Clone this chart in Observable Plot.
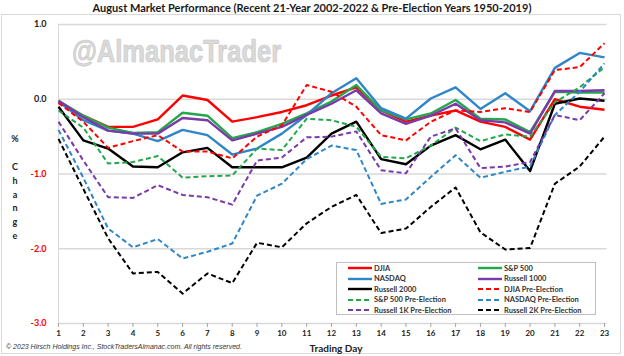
<!DOCTYPE html>
<html><head><meta charset="utf-8">
<script src="https://cdn.jsdelivr.net/npm/d3@7"></script>
<script src="https://cdn.jsdelivr.net/npm/@observablehq/plot@0.6"></script>
<style>
body{margin:0;background:#fff;font-family:Lato,"Open Sans",sans-serif;}
#wrap{position:relative;width:624px;height:356px;overflow:hidden;background:#fff;}
#frame{position:absolute;left:1px;top:14px;width:620px;height:340px;border:1px solid #d9d9d9;box-sizing:border-box;}
#title{position:relative;height:16px;line-height:16px;text-align:center;font-weight:bold;font-size:11px;color:#1a1a1a;z-index:2;}
#chart{position:relative;z-index:1;}
#wm{position:absolute;left:72px;top:36px;font-family:"Liberation Sans",Arial,sans-serif;font-weight:bold;font-size:25.5px;line-height:26px;color:#dadada;-webkit-text-stroke:0.6px #c8c8c8;transform:scaleY(1.2);transform-origin:top left;z-index:0;white-space:nowrap;}
.ylab{position:absolute;left:9px;width:12px;text-align:center;font-weight:bold;font-size:9px;color:#222;z-index:2;}
#copy{position:absolute;left:6px;top:343px;font-family:"Liberation Sans",Arial,sans-serif;font-style:italic;font-size:7px;color:#333;z-index:2;}
#xtitle{position:absolute;left:300px;width:72px;top:342px;text-align:center;font-weight:bold;font-size:10px;color:#222;z-index:2;}
#legend{position:absolute;left:336px;top:262px;width:260px;height:53px;border:1px solid #bfbfbf;background:#fff;box-sizing:border-box;z-index:3;}
.li{position:absolute;height:10px;display:flex;align-items:center;font-weight:bold;font-size:7.5px;color:#333;white-space:nowrap;}
.li svg{margin-right:2px;}
</style></head>
<body>
<div id="wrap">
<div id="frame"></div>
<div id="wm">@AlmanacTrader</div>
<div id="title">August Market Performance (Recent 21-Year 2002-2022 &amp; Pre-Election Years 1950-2019)</div>
<div id="chart"></div>
<div class="ylab" style="top:133px;line-height:12px">%</div>
<div class="ylab" style="top:160px;line-height:13.8px">C<br>h<br>a<br>n<br>g<br>e</div>
<div id="copy">© 2023 Hirsch Holdings Inc., StockTradersAlmanac.com. All rights reserved.</div>
<div id="xtitle">Trading Day</div>
<div id="legend"></div>
</div>
<script>
// ---- data ----
const days = [1,2,3,4,5,6,7,8,9,10,11,12,13,14,15,16,17,18,19,20,21,22,23];
const yTicks = [1, 0, -1, -2, -3];
const djia     = [-0.03,-0.22,-0.37,-0.37,-0.27,0.05,-0.01,-0.30,-0.24,-0.17,-0.08,0.05,0.16,-0.15,-0.30,-0.22,-0.15,-0.30,-0.37,-0.54,0.00,-0.10,-0.14];
const sp500    = [-0.02,-0.22,-0.38,-0.45,-0.44,-0.18,-0.22,-0.52,-0.44,-0.33,-0.19,-0.03,0.19,-0.15,-0.27,-0.19,-0.01,-0.26,-0.27,-0.44,0.10,0.09,0.09];
const nasdaq   = [-0.03,-0.28,-0.42,-0.46,-0.56,-0.41,-0.48,-0.74,-0.66,-0.46,-0.21,0.08,0.28,-0.12,-0.26,0.01,0.16,-0.13,0.08,-0.16,0.42,0.62,0.56];
const r1000    = [-0.02,-0.24,-0.42,-0.46,-0.46,-0.25,-0.28,-0.55,-0.46,-0.37,-0.21,-0.06,0.12,-0.19,-0.33,-0.22,-0.06,-0.28,-0.31,-0.46,0.11,0.11,0.12];
const r2000    = [-0.10,-0.55,-0.66,-0.90,-0.91,-0.71,-0.65,-0.91,-0.91,-0.91,-0.78,-0.46,-0.30,-0.80,-0.87,-0.62,-0.48,-0.67,-0.54,-0.96,-0.06,0.01,-0.02];
const djiaPE   = [-0.05,-0.30,-0.65,-0.56,-0.48,-0.70,-0.70,-0.79,-0.50,-0.35,0.19,0.10,-0.10,-0.48,-0.55,-0.30,-0.15,-0.17,-0.12,-0.17,0.39,0.43,0.75];
const sp500PE  = [-0.15,-0.38,-0.86,-0.84,-0.76,-1.05,-1.03,-1.02,-0.66,-0.68,-0.26,-0.28,-0.37,-0.77,-0.79,-0.62,-0.38,-0.56,-0.47,-0.50,-0.04,0.16,0.43];
const nasdaqPE = [-0.41,-1.05,-1.73,-1.98,-1.87,-2.13,-2.04,-1.93,-1.29,-1.13,-0.80,-0.62,-0.68,-1.40,-1.34,-1.04,-0.75,-1.05,-0.97,-0.90,-0.21,0.10,0.48];
const r1kPE    = [-0.30,-0.82,-1.31,-1.32,-1.15,-1.28,-1.31,-1.41,-0.82,-0.78,-0.51,-0.50,-0.43,-0.95,-0.99,-0.50,-0.39,-0.92,-0.90,-0.84,-0.21,-0.28,0.08];
const r2kPE    = [-0.53,-1.20,-1.86,-2.33,-2.31,-2.60,-2.33,-2.46,-1.92,-1.98,-1.66,-1.44,-1.28,-1.79,-1.73,-1.44,-1.18,-1.78,-2.01,-1.99,-1.13,-0.90,-0.50];

const seriesNames = ["DJIA","S&P 500","NASDAQ","Russell 1000","Russell 2000","DJIA Pre-Election","S&P 500 Pre-Election","NASDAQ Pre-Election","Russell 1K Pre-Election","Russell 2K Pre-Election"];
const seriesValues = [djia, sp500, nasdaq, r1000, r2000, djiaPE, sp500PE, nasdaqPE, r1kPE, r2kPE];
const seriesColors = ["#ff0000","#22a84a","#2e86c8","#7a3aaa","#000000","#ff0000","#22a84a","#2e86c8","#7a3aaa","#000000"];
const seriesDashed = [false,false,false,false,false,true,true,true,true,true];
const legendOrder = [0,1,2,3,4,5,6,7,8,9]; // two columns, row-major

// ---- chart ----
const lineMarks = seriesNames.map((name, i) => Plot.line(
  days.map((d, k) => ({day: d, value: seriesValues[i][k]})),
  {x: "day", y: "value", stroke: seriesColors[i],
   strokeWidth: seriesDashed[i] ? 2 : 2.4,
   strokeDasharray: seriesDashed[i] ? "5,3" : null,
   strokeLinejoin: "round", strokeLinecap: "butt"}
));

const chart = Plot.plot({
  width: 624, height: 340,
  marginLeft: 58, marginRight: 17.5, marginTop: 8, marginBottom: 33,
  style: {background: "transparent", fontFamily: "Lato, 'Open Sans', sans-serif", fontSize: "8px", fontWeight: "bold", color: "#222"},
  x: {domain: [1, 23.1], axis: null},
  y: {domain: [-3, 1], axis: null},
  marks: [
    Plot.ruleY(yTicks, {stroke: "#d9d9d9", strokeWidth: 1.3}),
    Plot.ruleX([1], {stroke: "#d9d9d9", strokeWidth: 1}),
    Plot.axisX(days, {tickSize: 4, tickPadding: 3, stroke: "#a6a6a6", fill: "#222", label: null, tickFormat: d => String(d)}),
    Plot.text(yTicks, {y: d => d, frameAnchor: "left", dx: -12, textAnchor: "end", text: d => d.toFixed(1),
      fill: d => d < 0 ? "#ff0000" : "#222", fontSize: 9, fontWeight: "bold"}),
    ...lineMarks
  ]
});
document.getElementById("chart").appendChild(chart);

// ---- legend ----
const lg = document.getElementById("legend");
const rowY = [0, 10.5, 21, 31.5, 42];
legendOrder.forEach((idx, j) => {
  const col = j % 2, row = Math.floor(j / 2);
  const item = document.createElement("div");
  item.className = "li";
  item.style.left = (col === 0 ? 11 : 141) + "px";
  item.style.top = rowY[row] + "px";
  const ns = "http://www.w3.org/2000/svg";
  const s = document.createElementNS(ns, "svg");
  s.setAttribute("width", 24); s.setAttribute("height", 6);
  const l = document.createElementNS(ns, "line");
  l.setAttribute("x1", 0); l.setAttribute("x2", 24); l.setAttribute("y1", 3); l.setAttribute("y2", 3);
  l.setAttribute("stroke", seriesColors[idx]);
  l.setAttribute("stroke-width", seriesDashed[idx] ? 2 : 2.4);
  if (seriesDashed[idx]) l.setAttribute("stroke-dasharray", "5,3");
  s.appendChild(l);
  item.appendChild(s);
  const t = document.createElement("span");
  t.textContent = seriesNames[idx];
  item.appendChild(t);
  lg.appendChild(item);
});
</script>
</body></html>
